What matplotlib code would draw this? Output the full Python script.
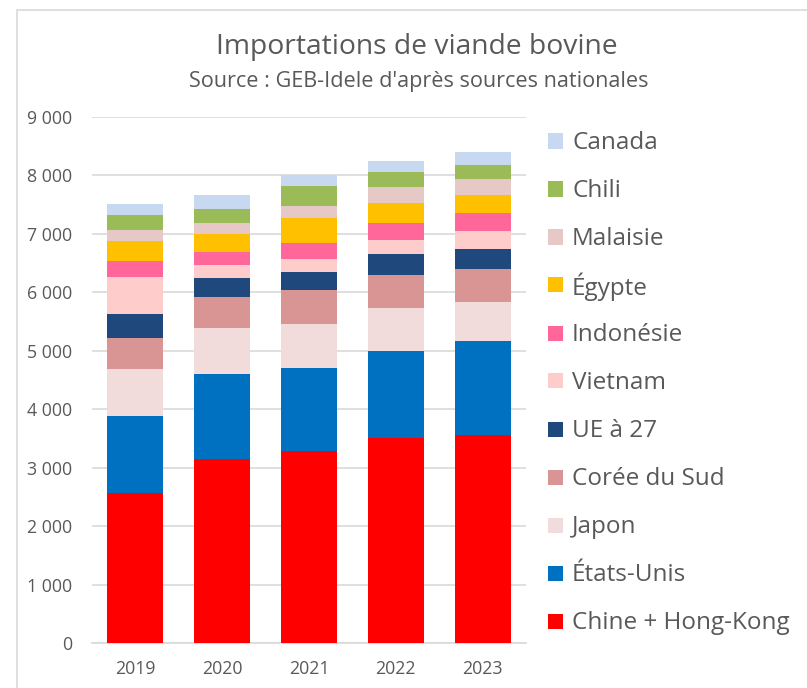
import matplotlib
matplotlib.use("Agg")
import matplotlib.pyplot as plt
from matplotlib.patches import Rectangle
from matplotlib.ticker import FuncFormatter

years = ["2019", "2020", "2021", "2022", "2023"]
# tonnes (milliers), bottom to top
chine = [2565, 3152, 3277, 3511, 3563]
etats_unis = [1311, 1449, 1426, 1483, 1612]
japon = [810, 792, 763, 735, 657]
coree = [530, 530, 571, 575, 570]
ue27 = [411, 320, 308, 354, 341]
vietnam = [643, 222, 223, 234, 308]
indonesie = [268, 222, 278, 296, 308]
egypte = [343, 313, 433, 337, 308]
malaisie = [188, 188, 200, 279, 269]
chili = [251, 245, 342, 257, 249]
canada = [188, 239, 188, 182, 218]

series = [
    ("Chine + Hong-Kong", chine, "#FF0000"),
    ("États-Unis", etats_unis, "#0070C0"),
    ("Japon", japon, "#F2DCDB"),
    ("Corée du Sud", coree, "#D99594"),
    ("UE à 27", ue27, "#1F497D"),
    ("Vietnam", vietnam, "#FFCCCC"),
    ("Indonésie", indonesie, "#FF6699"),
    ("Égypte", egypte, "#FFC000"),
    ("Malaisie", malaisie, "#E6C9C6"),
    ("Chili", chili, "#9BBB59"),
    ("Canada", canada, "#C6D9F1"),
]

plt.rcParams["font.family"] = ["Open Sans", "DejaVu Sans"]
txt = "#595959"

fig = plt.figure(figsize=(8.07, 6.88), dpi=100)
ax = fig.add_axes([92 / 807, 45 / 688, 434 / 807, 526 / 688])

x = list(range(len(years)))
bottom = [0] * len(years)
for name, vals, col in series:
    ax.bar(x, vals, bottom=bottom, width=0.645, color=col, zorder=3)
    bottom = [b + v for b, v in zip(bottom, vals)]

ax.set_xlim(-0.5, 4.5)
ax.set_ylim(0, 9000)
ax.set_yticks(range(0, 9001, 1000))
ax.yaxis.set_major_formatter(FuncFormatter(lambda v, p: f"{int(v):,}".replace(",", " ")))
ax.set_xticks(x)
ax.set_xticklabels(years)
ax.grid(axis="y", color="#D9D9D9", linewidth=1.2, zorder=0)
for s in ["top", "right", "left"]:
    ax.spines[s].set_visible(False)
ax.spines["bottom"].set_color("#D9D9D9")
ax.spines["bottom"].set_linewidth(1.2)
ax.tick_params(axis="y", length=0, pad=14, labelsize=12.8, labelcolor=txt)
ax.tick_params(axis="x", length=0, pad=12, labelsize=12.8, labelcolor=txt)

fig.text(417 / 807, 1 - 47 / 688, "Importations de viande bovine", ha="center", va="center",
         fontsize=20.3, color=txt)
fig.text(419 / 807, 1 - 81 / 688, "Source : GEB-Idele d'après sources nationales",
         ha="center", va="center", fontsize=15.6, color=txt)

# legend, drawn by hand (top entry = last series)
for i, (name, vals, col) in enumerate(reversed(series)):
    yc = 141 + 48 * i
    fig.patches.append(Rectangle((548 / 807, 1 - (yc + 7.5) / 688), 15 / 807, 15 / 688,
                                 transform=fig.transFigure, facecolor=col, edgecolor="none"))
    fig.text(572 / 807, 1 - (yc + 2) / 688, name, ha="left", va="center", fontsize=17.5, color=txt)

# chart area border
fig.patches.append(Rectangle((17 / 807, -0.1), 1.0, 1 - 10 / 688 + 0.1, transform=fig.transFigure,
                             facecolor="none", edgecolor="#D9D9D9", linewidth=1.2))

fig.savefig("out.png", dpi=100)
